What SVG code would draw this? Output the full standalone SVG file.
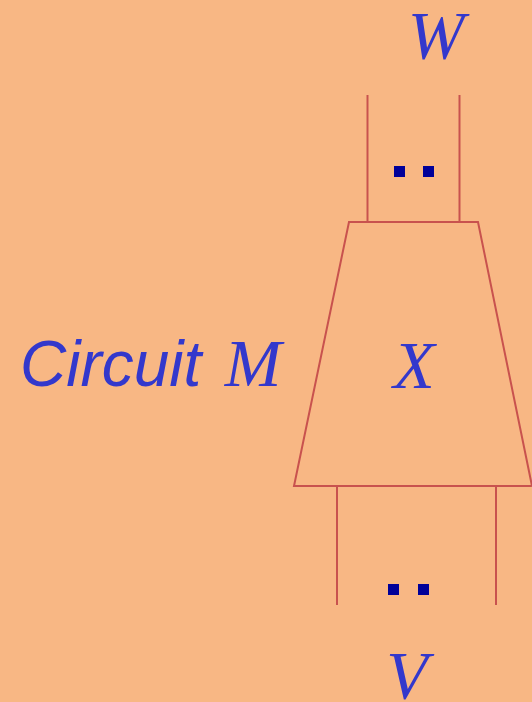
<svg xmlns="http://www.w3.org/2000/svg" width="532" height="702" viewBox="0 0 532 702">
<style>
.w{stroke:#C8524E;stroke-width:2;fill:none}
.d{fill:#000099}
.m{font-family:"Liberation Serif",serif;font-style:italic;fill:#3338CC;font-size:68px;text-anchor:middle}
.s{font-family:"Liberation Sans",sans-serif;font-style:italic;fill:#3338CC;font-size:64px}
</style>
<rect width="532" height="702" fill="#F8B784"/>
<g id="connectors">
<line class="w" x1="367.5" y1="95" x2="367.5" y2="222"/>
<line class="w" x1="459.5" y1="95" x2="459.5" y2="222"/>
<line class="w" x1="337" y1="486" x2="337" y2="605"/>
<line class="w" x1="496" y1="486" x2="496" y2="605"/>
</g>
<g id="X">
<polygon class="w" points="349,222 478,222 532,486 294,486"/>
<text class="m" x="414" y="388">X</text>
</g>
<g id="W">
<text class="m" x="436" y="58">W</text>
<rect class="d" x="394" y="166" width="11" height="11"/>
<rect class="d" x="423" y="166" width="11" height="11"/>
</g>
<g id="V">
<text class="m" x="407" y="698">V</text>
<rect class="d" x="388" y="584" width="11" height="11"/>
<rect class="d" x="418" y="584" width="11" height="11"/>
</g>
<g id="label">
<text x="20" y="386"><tspan class="s">Circuit</tspan><tspan class="m" x="253">M</tspan></text>
</g>
</svg>
